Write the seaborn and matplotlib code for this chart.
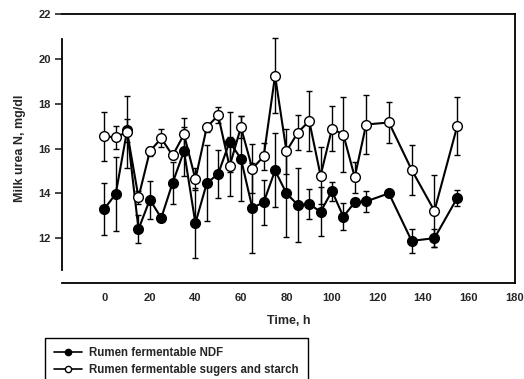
import numpy as np
import pandas as pd
import matplotlib
matplotlib.use("Agg")
import matplotlib.pyplot as plt
from matplotlib.lines import Line2D
import seaborn as sns

# ---- data ----
time_h = [0, 5, 10, 15, 20, 25, 30, 35, 40, 45, 50, 55, 60, 65, 70, 75, 80, 85,
          90, 95, 100, 105, 110, 115, 125, 135, 145, 155]

ndf_mean = [13.31, 13.97, 16.81, 12.40, 13.72, 12.90, 14.47, 15.88, 12.67, 14.45,
            14.87, 16.29, 15.55, 13.35, 13.60, 15.02, 14.00, 13.48, 13.52, 13.18,
            14.10, 12.96, 13.60, 13.64, 14.00, 11.88, 12.00, 13.79]
ndf_err = [1.17, 1.64, 0.50, 0.62, 0.85, 0.15, 0.95, 1.10, 1.55, 1.70,
           1.08, 1.35, 1.90, 2.00, 1.00, 1.65, 1.95, 1.65, 0.67, 1.10,
           0.42, 0.60, 0.15, 0.47, 0.10, 0.53, 0.40, 0.35]

sug_mean = [16.54, 16.50, 16.74, 13.82, 15.88, 16.45, 15.69, 16.63, 14.63, 16.95,
            17.48, 15.20, 16.95, 15.10, 15.65, 19.25, 15.88, 16.71, 17.23, 14.79,
            16.89, 16.62, 14.72, 17.07, 17.16, 15.05, 13.22, 16.99]
sug_err = [1.10, 0.50, 1.60, 0.30, 0.20, 0.40, 0.15, 0.73, 0.50, 0.20,
           0.35, 1.30, 0.50, 1.10, 0.60, 1.67, 1.00, 0.77, 1.35, 1.27,
           1.00, 1.68, 0.70, 1.33, 0.90, 1.12, 1.60, 1.30]

series_names = ["Rumen fermentable NDF", "Rumen fermentable sugers and starch"]
x_ticks = [0, 20, 40, 60, 80, 100, 120, 140, 160, 180]
y_ticks = [12, 14, 16, 18, 20, 22]

df = pd.DataFrame({
    "time": time_h * 2,
    "value": ndf_mean + sug_mean,
    "err": ndf_err + sug_err,
    "series": [series_names[0]] * len(time_h) + [series_names[1]] * len(time_h),
})

sns.set_theme(style="white")
plt.rcParams["font.family"] = ["Liberation Sans", "DejaVu Sans"]
plt.rcParams["font.weight"] = "bold"

W, H = 524, 379
fig = plt.figure(figsize=(W / 100, H / 100), dpi=100)
ax = fig.add_axes([62 / W, 1 - 283 / H, (515 - 62) / W, (283 - 14) / H])

fills = {series_names[0]: "black", series_names[1]: "white"}
for i, name in enumerate(series_names):
    sub = df[df["series"] == name]
    ax.errorbar(sub["time"], sub["value"], yerr=sub["err"], fmt="none",
                ecolor="black", elinewidth=1.0, capsize=2.5, capthick=1.0,
                zorder=2 + i)
    sns.lineplot(data=sub, x="time", y="value", ax=ax, color="black",
                 linewidth=1.5, marker="o", markersize=7,
                 markerfacecolor=fills[name], markeredgecolor="black",
                 markeredgewidth=1.0, zorder=3 + i, legend=False)

ax.set_xlim(-18.6, 180.4)
ax.set_ylim(10, 22)
ax.set_xticks(x_ticks)
ax.set_yticks(y_ticks)
ax.set_xticklabels([str(t) for t in x_ticks], fontsize=8, fontweight="bold")
ax.set_yticklabels([str(t) for t in y_ticks], fontsize=8, fontweight="bold")
ax.tick_params(axis="x", length=0, pad=7)
ax.tick_params(axis="y", direction="out", length=5, width=1.2, pad=3, left=True)
ax.set_xlabel("Time, h", fontsize=9, fontweight="bold", labelpad=9)
ax.set_ylabel("Milk urea N, mg/dl", fontsize=9, fontweight="bold", labelpad=9)

for s in ["top", "right", "bottom", "left"]:
    ax.spines[s].set_visible(True)
    ax.spines[s].set_color("black")
    ax.spines[s].set_linewidth(1.3)
ax.spines["left"].set_bounds(10.6, 20.9)
ax.grid(False)

handles = [
    Line2D([], [], color="black", lw=1.2, marker="o", markersize=4.5,
           markerfacecolor="black", markeredgecolor="black"),
    Line2D([], [], color="black", lw=1.2, marker="o", markersize=4.5,
           markerfacecolor="white", markeredgecolor="black"),
]
leg = fig.legend(handles, series_names, loc="upper left",
                 bbox_to_anchor=(45 / W, 1 - 338 / H), frameon=True,
                 fancybox=False, edgecolor="black", framealpha=1,
                 prop={"size": 8.3, "weight": "bold"}, handlelength=2.4,
                 handletextpad=0.6, borderpad=0.8, labelspacing=0.45,
                 borderaxespad=0)
leg.get_frame().set_linewidth(1.0)

fig.savefig("out.png", dpi=100)
